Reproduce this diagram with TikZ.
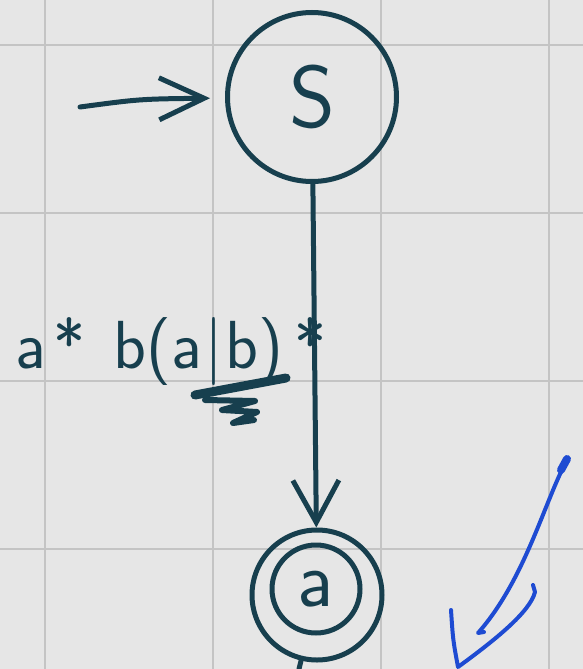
\documentclass[tikz,border=0pt]{standalone}
\usetikzlibrary{arrows.meta}
\definecolor{paper}{HTML}{E6E6E6}
\definecolor{gridc}{HTML}{C4C4C4}
\definecolor{ink}{HTML}{173F4E}
\definecolor{pen}{HTML}{1E4BD2}
\begin{document}
\begin{tikzpicture}[x=1pt,y=-1pt,
  state/.style={circle, draw=ink, line width=5pt, inner sep=0pt, text=ink},
  inkline/.style={draw=ink, line width=5pt, line cap=round, line join=round},
  downbarb/.style={-{Straight Barb[length=42pt,width=46pt]}},
  startbarb/.style={-{Straight Barb[length=45pt,width=42pt]}},
  gridline/.style={draw=gridc, line width=2pt},
  penline/.style={draw=pen, line width=4pt, line cap=round, line join=round}]
\fill[paper] (0,0) rectangle (583,669);
\useasboundingbox (0,0) rectangle (583,669);
\foreach \g in {45,213,381,549} {
  \draw[gridline] (\g,0) -- (\g,669);
  \draw[gridline] (0,\g) -- (583,\g);
}
% states
\node[state, minimum size=169pt] (s) at (312,97) {\fontsize{88}{88}\selectfont\sffamily S};
\node[state, minimum size=130pt] (f) at (317,595) {};
\node[state, minimum size=88pt] (fi) at (316,589) {\fontsize{80}{80}\selectfont\sffamily a};
% start arrow
\coordinate (st) at (80,107);
\draw[inkline, startbarb, shorten >=15pt] (st) .. controls (140,99) .. (s);
% transition
\draw[inkline, downbarb] (s) -- (f);
\node[anchor=base west, inner sep=0pt, text=ink] (lbl) at (15,368) {\fontsize{68}{68}\selectfont\sffamily a\hspace{8pt}*\hspace{28pt}b(a\hspace{2pt}|\hspace{2pt}b)\hspace{12pt}*};
% underline scribble
\draw[ink, line width=9pt, line cap=round, line join=round] (195,395) -- (286,378);
\draw[ink, line width=6pt, line cap=round, line join=round] (205,400) -- (255,401) -- (222,410) -- (257,412) -- (233,423) -- (254,420);
% cut-off stroke under final state
\coordinate (cut) at (299,669);
\draw[inkline] (f) -- (cut);
% blue check
\draw[penline] (567,460) .. controls (545,500) and (525,580) .. (478,633) -- (484,632);
\draw[pen, line width=8pt, line cap=round] (567,459) -- (561,470);
\draw[penline] (451,610) .. controls (453,640) .. (458,667) .. controls (495,640) and (530,612) .. (535,592) -- (533,585);
\end{tikzpicture}
\end{document}
